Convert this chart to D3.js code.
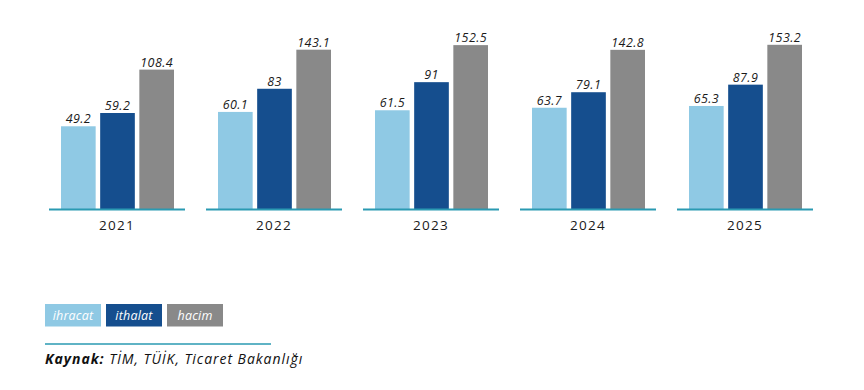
<!DOCTYPE html>
<html>
<head>
<meta charset="utf-8">
<script src="https://cdn.jsdelivr.net/npm/d3@7"></script>
<style>
  html, body { margin: 0; padding: 0; background: #ffffff; }
  svg { display: block; }
</style>
</head>
<body>
<svg id="chart" width="864" height="390"></svg>
<script>
const years = ["2021", "2022", "2023", "2024", "2025"];
const seriesNames = ["ihracat", "ithalat", "hacim"];
const ihracat = [49.2, 60.1, 61.5, 63.7, 65.3];
const ithalat = [59.2, 83, 91, 79.1, 87.9];
const hacim = [108.4, 143.1, 152.5, 142.8, 153.2];
const seriesColors = ["#8fc9e4", "#154e8e", "#898989"];
const sourceLabel = "Kaynak:";
const sourceText = " TİM, TÜİK, Ticaret Bakanlığı";

const values = [ihracat, ithalat, hacim];
const FONT = "'Open Sans', 'Noto Sans', sans-serif";
const svg = d3.select("#chart");

const baseline = 209;
const x0 = d3.scaleBand().domain(years).range([49, 813]).paddingInner(21 / 157).paddingOuter(0);
const x1 = d3.scaleBand().domain(seriesNames).range([12, 125]).paddingInner(0.115).paddingOuter(0);
const y = d3.scaleLog().domain([15.53, 153.2]).range([baseline, baseline - 164.2]);

const groups = svg.selectAll("g.year").data(years).join("g")
  .attr("class", "year")
  .attr("transform", d => `translate(${x0(d)},0)`);

groups.each(function(year, i) {
  const g = d3.select(this);
  const data = seriesNames.map((s, k) => ({ s, k, v: values[k][i] }));
  g.selectAll("rect").data(data).join("rect")
    .attr("x", d => x1(d.s))
    .attr("y", d => y(d.v))
    .attr("width", x1.bandwidth())
    .attr("height", d => baseline - y(d.v))
    .attr("fill", d => seriesColors[d.k]);
  g.selectAll("text.val").data(data).join("text")
    .attr("class", "val")
    .attr("x", d => x1(d.s) + x1.bandwidth() / 2)
    .attr("y", d => y(d.v) - 3)
    .attr("text-anchor", "middle")
    .attr("font-family", FONT)
    .attr("font-style", "italic")
    .attr("font-size", 12.5)
    .attr("letter-spacing", 0.4)
    .attr("fill", "#1a1a1a")
    .text(d => d.v);
  g.append("line")
    .attr("x1", 0).attr("x2", x0.bandwidth())
    .attr("y1", baseline + 0.5).attr("y2", baseline + 0.5)
    .attr("stroke", "#2a9ab2").attr("stroke-width", 2);
  g.append("text")
    .attr("x", x0.bandwidth() / 2)
    .attr("y", 229.5)
    .attr("text-anchor", "middle")
    .attr("font-family", FONT)
    .attr("font-size", 13.5)
    .attr("letter-spacing", 1.3)
    .attr("fill", "#1a1a1a")
    .text(year);
});

// legend
const legend = svg.append("g").attr("transform", "translate(45,304)");
const lg = legend.selectAll("g").data(seriesNames).join("g")
  .attr("transform", (d, i) => `translate(${i * 61},0)`);
lg.append("rect").attr("width", 56).attr("height", 22.5).attr("fill", (d, i) => seriesColors[i]);
lg.append("text")
  .attr("x", 28).attr("y", 15.8)
  .attr("text-anchor", "middle")
  .attr("font-family", FONT)
  .attr("font-style", "italic")
  .attr("font-size", 12.5)
  .attr("letter-spacing", 0.2)
  .attr("fill", "#ffffff")
  .text(d => d);

// source
svg.append("line")
  .attr("x1", 45).attr("x2", 271).attr("y1", 344).attr("y2", 344)
  .attr("stroke", "#2a9ab2").attr("stroke-width", 1.5);
const src = svg.append("text")
  .attr("x", 45).attr("y", 363.5)
  .attr("font-family", FONT)
  .attr("font-style", "italic")
  .attr("font-size", 14)
  .attr("letter-spacing", 0.95)
  .attr("fill", "#111111");
src.append("tspan").attr("font-weight", "bold").text(sourceLabel);
src.append("tspan").text(sourceText);
</script>
</body>
</html>
